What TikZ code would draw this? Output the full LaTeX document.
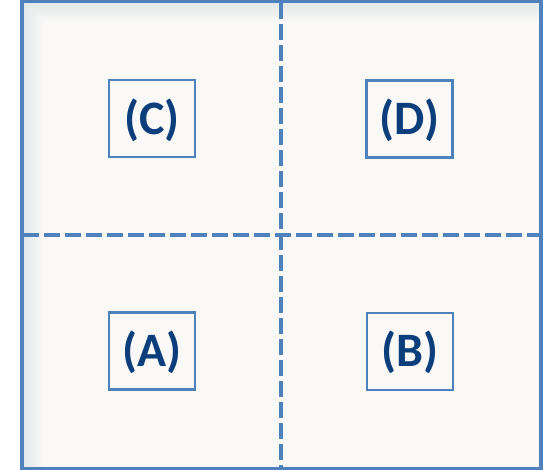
\documentclass[tikz,border=0pt]{standalone}
\usepackage{fontspec}
\setmainfont{Carlito}
\definecolor{frameblue}{RGB}{79,129,189}
\definecolor{textblue}{RGB}{12,62,124}
\definecolor{paper}{RGB}{250,249,248}
\definecolor{shade}{RGB}{224,231,231}
\begin{document}
\begin{tikzpicture}[x=1pt,y=-1pt,
  label box/.style={draw=frameblue,line width=2.3pt,fill=paper,inner sep=0pt,
    minimum width=86pt,minimum height=77pt,text height=31pt,text depth=0pt,
    font=\fontsize{48}{54}\selectfont\bfseries,text=textblue},
  divider/.style={draw=frameblue,line width=4pt,dash pattern=on 16pt off 5pt}]
\useasboundingbox (0,0) rectangle (549,470);
% panel background
\fill[paper] (21.5,1.5) rectangle (540.5,468.5);
\shade[top color=shade,bottom color=paper] (21.5,1.5) -- (540.5,1.5) -- (540.5,22) -- (44,22) -- cycle;
\shade[left color=shade,right color=paper] (21.5,1.5) -- (44,22) -- (44,468.5) -- (21.5,468.5) -- cycle;
% corner coordinates
\coordinate (tl) at (21.5,1.5);
\coordinate (br) at (540.5,468.5);
\coordinate (vt) at (280.7,3);
\coordinate (vb) at (280.7,467);
\coordinate (hl) at (23,234.7);
\coordinate (hr) at (539,234.7);
% dividers
\draw[divider] (hl) -- (hr);
\draw[divider] (vt) -- (vb);
% frame
\draw[frameblue,line width=4pt] (tl) rectangle (br);
% quadrant labels
\node[label box] (C) at (152,118.8) {(C)};
\node[label box] (D) at (409.5,119) {(D)};
\node[label box] (A) at (152.2,351) {(A)};
\node[label box] (B) at (409.8,351.2) {(B)};
\end{tikzpicture}
\end{document}
